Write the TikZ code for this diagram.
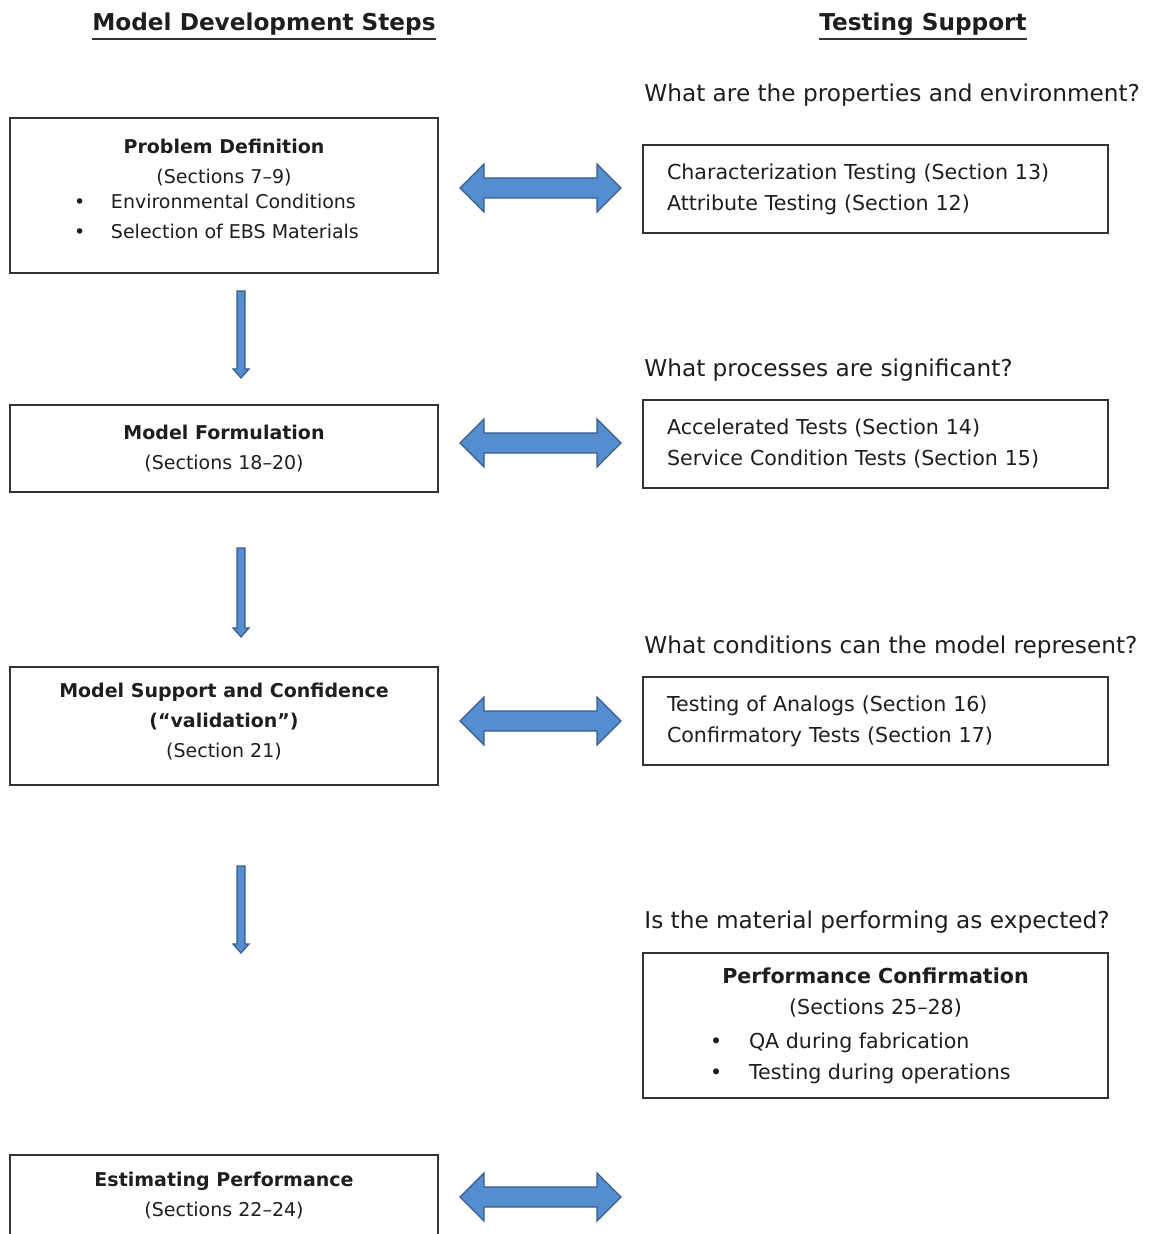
\documentclass[tikz,border=0pt]{standalone}
\usepackage{fontspec}
\setmainfont{DejaVu Sans}
\usetikzlibrary{positioning}
\definecolor{boxline}{RGB}{51,51,51}
\definecolor{txtcol}{RGB}{30,30,30}
\definecolor{arrowfill}{RGB}{84,141,208}
\definecolor{arrowline}{RGB}{56,93,138}
\tikzset{
  heading/.style = {font=\fontsize{11.6}{14}\selectfont\bfseries, inner sep=0pt,
    text=txtcol},
  question/.style = {font=\fontsize{11.6}{14}\selectfont, anchor=west,
    inner sep=0pt, text=txtcol},
  stepbox/.style = {draw=boxline, line width=1pt, align=center, text=txtcol,
    minimum width=214pt, font=\fontsize{9.5}{15}\selectfont},
  testbox/.style = {draw=boxline, line width=1pt, align=left, text=txtcol,
    text width=208.5pt, inner xsep=12pt, minimum height=44pt,
    font=\fontsize{10.3}{15.5}\selectfont},
  blockarrow/.style = {fill=arrowfill, draw=arrowline, line width=0.6pt},
}

\begin{document}
\begin{tikzpicture}[x=0.5pt,y=-0.5pt]
\useasboundingbox (0,0) rectangle (1149,1234);

% headings
\node[heading] (mdt) at (264,24) {Model Development Steps};
\node[heading] (tst) at (923,24) {Testing Support};
\draw[line width=1pt,boxline] ([yshift=-4.5pt]mdt.base west) -- ([yshift=-4.5pt]mdt.base east);
\draw[line width=1pt,boxline] ([yshift=-4.5pt]tst.base west) -- ([yshift=-4.5pt]tst.base east);

% model development steps
\node[stepbox, minimum height=77.5pt, text depth=6.3pt] (pd) at (224,195.5)
  {\textbf{Problem Definition}\\(Sections 7--9)\\[-2.5pt]
   \makebox[150pt][l]{\makebox[18.5pt][l]{\textbullet}Environmental Conditions}\\
   \makebox[150pt][l]{\makebox[18.5pt][l]{\textbullet}Selection of EBS Materials}};
\node[stepbox, minimum height=43.5pt] (mf) at (224,448.5)
  {\textbf{Model Formulation}\\(Sections 18--20)};
\node[stepbox, minimum height=59pt, text depth=5.3pt] (ms) at (224,726)
  {\textbf{Model Support and Confidence}\\\textbf{(“validation”)}\\(Section 21)};
\node[stepbox, minimum height=40.5pt] (ep) at (224,1195.5)
  {\textbf{Estimating Performance}\\(Sections 22--24)};

% testing support
\node[question] (q1) at (644,95) {What are the properties and environment?};
\node[testbox] (ct) at (875.5,189)
  {Characterization Testing (Section 13)\\Attribute Testing (Section 12)};
\node[question] (q2) at (644,370) {What processes are significant?};
\node[testbox] (at) at (875.5,444)
  {Accelerated Tests (Section 14)\\Service Condition Tests (Section 15)};
\node[question] (q3) at (644,647) {What conditions can the model represent?};
\node[testbox] (ta) at (875.5,721)
  {Testing of Analogs (Section 16)\\Confirmatory Tests (Section 17)};
\node[question] (q4) at (644,922) {Is the material performing as expected?};
\node[stepbox, minimum width=232.5pt, minimum height=72.5pt,
  font=\fontsize{10.3}{15.5}\selectfont] (pc) at (875.5,1025.5)
  {\textbf{Performance Confirmation}\\(Sections 25--28)\\[1.5pt]
   \makebox[165.5pt][l]{\makebox[19.5pt][l]{\textbullet}QA during fabrication}\\
   \makebox[165.5pt][l]{\makebox[19.5pt][l]{\textbullet}Testing during operations}};

% block arrows
\foreach \ya in {188,443,721,1197}
  \draw[blockarrow] (460,\ya) -- ++(24,-24) -- ++(0,14) -- ++(113,0) -- ++(0,-14)
    -- ++(24,24) -- ++(-24,24) -- ++(0,-14) -- ++(-113,0) -- ++(0,14) -- cycle;
\foreach \ya/\yb in {291/378,548/637,866/953}
  \draw[blockarrow] (237,\ya) -- (245,\ya) -- (245,\yb-9) -- (249,\yb-9)
    -- (241,\yb) -- (233,\yb-9) -- (237,\yb-9) -- cycle;
\end{tikzpicture}
\end{document}
